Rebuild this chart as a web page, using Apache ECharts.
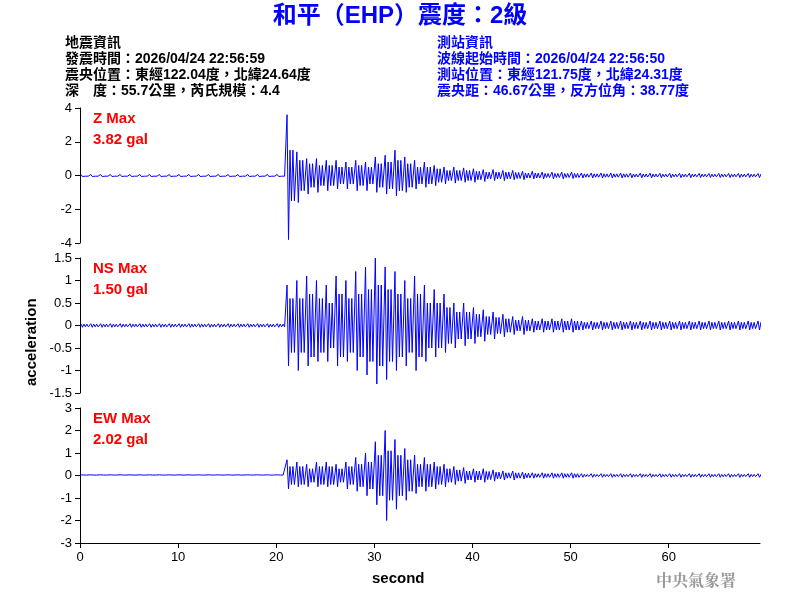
<!DOCTYPE html>
<html>
<head>
<meta charset="utf-8">
<script src="https://cdn.jsdelivr.net/npm/echarts@6/dist/echarts.min.js"></script>
<style>html,body{margin:0;background:#fff}#main{width:800px;height:600px}</style>
</head>
<body>
<div id="main"></div>
<script>
// per-second envelope (seconds 0..69)
var zMax = [0.06,0.06,0.06,0.06,0.06,0.06,0.06,0.06,0.06,0.06,0.06,0.06,0.06,0.06,0.06,0.06,0.06,0.06,0.06,0.06,0.06,
  3.6,1.4,1.0,1.0,0.9,0.9,0.8,0.9,0.8,1.1,1.2,1.5,1.1,0.9,0.8,0.6,0.5,0.5,0.45,0.4,0.35,0.35,0.3,0.3,0.25,0.25,0.2,0.2,0.2,0.2,
  0.15,0.15,0.15,0.15,0.15,0.14,0.14,0.14,0.13,0.13,0.13,0.13,0.12,0.12,0.12,0.12,0.12,0.12,0.12];
var zMin = [-0.06,-0.06,-0.06,-0.06,-0.06,-0.06,-0.06,-0.06,-0.06,-0.06,-0.06,-0.06,-0.06,-0.06,-0.06,-0.06,-0.06,-0.06,-0.06,-0.06,-0.06,
  -3.8,-1.6,-1.1,-1.0,-0.9,-0.8,-0.8,-0.9,-0.9,-1.0,-1.1,-1.2,-1.0,-0.8,-0.7,-0.6,-0.5,-0.45,-0.4,-0.4,-0.35,-0.3,-0.3,-0.25,-0.25,-0.2,-0.2,-0.2,-0.2,-0.18,
  -0.15,-0.15,-0.15,-0.15,-0.15,-0.14,-0.14,-0.14,-0.13,-0.13,-0.13,-0.13,-0.12,-0.12,-0.12,-0.12,-0.12,-0.12,-0.12];
var zMid = [0.04,0.04,0.04,0.04,0.04,0.04,0.04,0.04,0.04,0.04,0.04,0.04,0.04,0.04,0.04,0.04,0.04,0.04,0.04,0.04,0.04,
  1.5,0.9,0.7,0.6,0.6,0.5,0.5,0.6,0.5,0.7,0.8,0.9,0.7,0.5,0.5,0.4,0.3,0.3,0.3,0.25,0.2,0.2,0.2,0.18,0.15,0.15,0.12,0.12,0.12,0.12,
  0.1,0.1,0.1,0.1,0.1,0.09,0.09,0.09,0.08,0.08,0.08,0.08,0.08,0.08,0.08,0.08,0.08,0.08,0.08];
var nsMax = [0.04,0.04,0.04,0.04,0.04,0.04,0.04,0.04,0.04,0.04,0.04,0.04,0.04,0.04,0.04,0.04,0.04,0.04,0.04,0.04,0.04,
  0.9,1.0,1.1,1.0,0.9,1.1,1.0,1.2,1.3,1.5,1.3,1.2,1.0,1.1,0.9,0.8,0.7,0.5,0.5,0.4,0.35,0.3,0.25,0.2,0.2,0.15,0.15,0.15,0.15,0.15,
  0.1,0.1,0.1,0.1,0.1,0.1,0.1,0.1,0.1,0.1,0.1,0.1,0.1,0.1,0.1,0.1,0.1,0.1,0.1];
var nsMin = [-0.04,-0.04,-0.04,-0.04,-0.04,-0.04,-0.04,-0.04,-0.04,-0.04,-0.04,-0.04,-0.04,-0.04,-0.04,-0.04,-0.04,-0.04,-0.04,-0.04,-0.04,
  -0.9,-1.0,-0.9,-0.8,-0.8,-0.9,-0.8,-1.0,-1.1,-1.3,-1.2,-1.0,-0.9,-1.0,-0.8,-0.7,-0.6,-0.5,-0.45,-0.4,-0.35,-0.3,-0.25,-0.2,-0.2,-0.15,-0.15,-0.15,-0.15,-0.15,
  -0.1,-0.1,-0.1,-0.1,-0.1,-0.1,-0.1,-0.1,-0.1,-0.1,-0.1,-0.1,-0.1,-0.1,-0.1,-0.1,-0.1,-0.1,-0.1];
var nsMid = [0.03,0.03,0.03,0.03,0.03,0.03,0.03,0.03,0.03,0.03,0.03,0.03,0.03,0.03,0.03,0.03,0.03,0.03,0.03,0.03,0.03,
  0.6,0.6,0.7,0.6,0.5,0.7,0.6,0.7,0.8,0.9,0.8,0.7,0.6,0.7,0.5,0.5,0.4,0.3,0.3,0.25,0.2,0.18,0.15,0.12,0.12,0.1,0.1,0.1,0.1,0.1,
  0.07,0.07,0.07,0.07,0.07,0.07,0.07,0.07,0.07,0.07,0.07,0.07,0.07,0.07,0.07,0.07,0.07,0.07,0.07];
var ewMax = [0.03,0.03,0.03,0.03,0.03,0.03,0.03,0.03,0.03,0.03,0.03,0.03,0.03,0.03,0.03,0.03,0.03,0.03,0.03,0.03,0.03,
  0.7,0.6,0.5,0.6,0.6,0.5,0.6,0.8,1.0,1.5,2.0,1.6,1.2,0.9,0.8,0.6,0.5,0.4,0.35,0.3,0.3,0.25,0.2,0.2,0.15,0.12,0.12,0.12,0.12,0.12,
  0.08,0.08,0.08,0.08,0.08,0.08,0.08,0.08,0.08,0.08,0.08,0.08,0.08,0.08,0.08,0.08,0.08,0.08,0.08];
var ewMin = [-0.03,-0.03,-0.03,-0.03,-0.03,-0.03,-0.03,-0.03,-0.03,-0.03,-0.03,-0.03,-0.03,-0.03,-0.03,-0.03,-0.03,-0.03,-0.03,-0.03,-0.03,
  -0.6,-0.5,-0.5,-0.5,-0.5,-0.5,-0.6,-0.7,-0.9,-1.3,-2.0,-1.5,-1.1,-0.8,-0.7,-0.6,-0.5,-0.4,-0.35,-0.3,-0.3,-0.25,-0.2,-0.2,-0.15,-0.12,-0.12,-0.12,-0.12,-0.12,
  -0.08,-0.08,-0.08,-0.08,-0.08,-0.08,-0.08,-0.08,-0.08,-0.08,-0.08,-0.08,-0.08,-0.08,-0.08,-0.08,-0.08,-0.08,-0.08];
var ewMid = [0.02,0.02,0.02,0.02,0.02,0.02,0.02,0.02,0.02,0.02,0.02,0.02,0.02,0.02,0.02,0.02,0.02,0.02,0.02,0.02,0.02,
  0.4,0.4,0.3,0.4,0.4,0.3,0.4,0.5,0.6,0.9,1.1,0.9,0.7,0.5,0.5,0.4,0.3,0.25,0.2,0.2,0.18,0.15,0.12,0.12,0.1,0.08,0.08,0.08,0.08,0.08,
  0.05,0.05,0.05,0.05,0.05,0.05,0.05,0.05,0.05,0.05,0.05,0.05,0.05,0.05,0.05,0.05,0.05,0.05,0.05];
var maxLabels = ['Z Max\n3.82 gal', 'NS Max\n1.50 gal', 'EW Max\n2.02 gal'];
var yRanges = [[-4, 4, 2], [-1.5, 1.5, 0.5], [-3, 3, 1]];

// each second: peak, trough, then a smaller swing each way
function trace(hi, lo, mid) {
  var pts = [];
  for (var i = 0; i < hi.length; i++) {
    pts.push([i + 0.1, hi[i]]);
    pts.push([i + 0.25, lo[i]]);
    pts.push([i + 0.4, mid[i]]);
    pts.push([i + 0.55, -mid[i]]);
    pts.push([i + 0.7, mid[i]]);
    pts.push([i + 0.85, -mid[i]]);
  }
  return pts;
}
var traces = [trace(zMax, zMin, zMid), trace(nsMax, nsMin, nsMid), trace(ewMax, ewMin, ewMid)];
var tops = [108, 258, 408];

var chart = echarts.init(document.getElementById('main'));
var cjk = '"Liberation Sans", "Noto Sans CJK TC"';
chart.setOption({
  animation: false,
  grid: tops.map(function (t) { return { left: 80, width: 680, top: t, height: 135 }; }),
  xAxis: tops.map(function (t, i) {
    return {
      gridIndex: i, type: 'value', min: 0, max: 69.3, interval: 10, show: i === 2,
      axisLine: { onZero: false, lineStyle: { color: '#000' } }, axisTick: { lineStyle: { color: '#000' } },
      axisLabel: { color: '#000', fontSize: 13, showMaxLabel: false }, splitLine: { show: false }
    };
  }),
  yAxis: yRanges.map(function (r, i) {
    return {
      gridIndex: i, type: 'value', min: r[0], max: r[1], interval: r[2],
      axisLine: { show: true, onZero: false, lineStyle: { color: '#000' } },
      axisTick: { show: true, lineStyle: { color: '#000' } },
      axisLabel: { color: '#000', fontSize: 13 }, splitLine: { show: false }
    };
  }),
  series: traces.map(function (d, i) {
    return { type: 'line', xAxisIndex: i, yAxisIndex: i, data: d, symbol: 'none',
      lineStyle: { color: '#0000ff', width: 1 } };
  }),
  graphic: [
    { type: 'text', left: 'center', top: 4, style: { text: '和平（EHP）震度：2級', font: 'bold 24px ' + cjk, fill: '#0000ff' } },
    { type: 'text', left: 65, top: 35, style: { text: '地震資訊\n發震時間：2026/04/24 22:56:59\n震央位置：東經122.04度，北緯24.64度\n深　度：55.7公里，芮氏規模：4.4', font: 'bold 14px ' + cjk, lineHeight: 16, fill: '#000' } },
    { type: 'text', left: 437, top: 35, style: { text: '測站資訊\n波線起始時間：2026/04/24 22:56:50\n測站位置：東經121.75度，北緯24.31度\n震央距：46.67公里，反方位角：38.77度', font: 'bold 14px ' + cjk, lineHeight: 16, fill: '#0000ff' } }
  ].concat(maxLabels.map(function (s, i) {
    return { type: 'text', left: 93, top: tops[i], style: { text: s, font: 'bold 15px "Liberation Sans"', lineHeight: 21, fill: '#ff0000' } };
  })).concat([
    { type: 'text', x: 24, y: 386, rotation: Math.PI / 2, style: { text: 'acceleration', font: 'bold 15px "Liberation Sans"', fill: '#000' } },
    { type: 'text', left: 372, top: 571, style: { text: 'second', font: 'bold 15px "Liberation Sans"', fill: '#000' } },
    { type: 'text', left: 656, top: 572, style: { text: '中央氣象署', font: 'bold 16px "Noto Serif CJK TC", "Noto Sans CJK TC"', fill: '#999' } }
  ])
});
</script>
</body>
</html>
